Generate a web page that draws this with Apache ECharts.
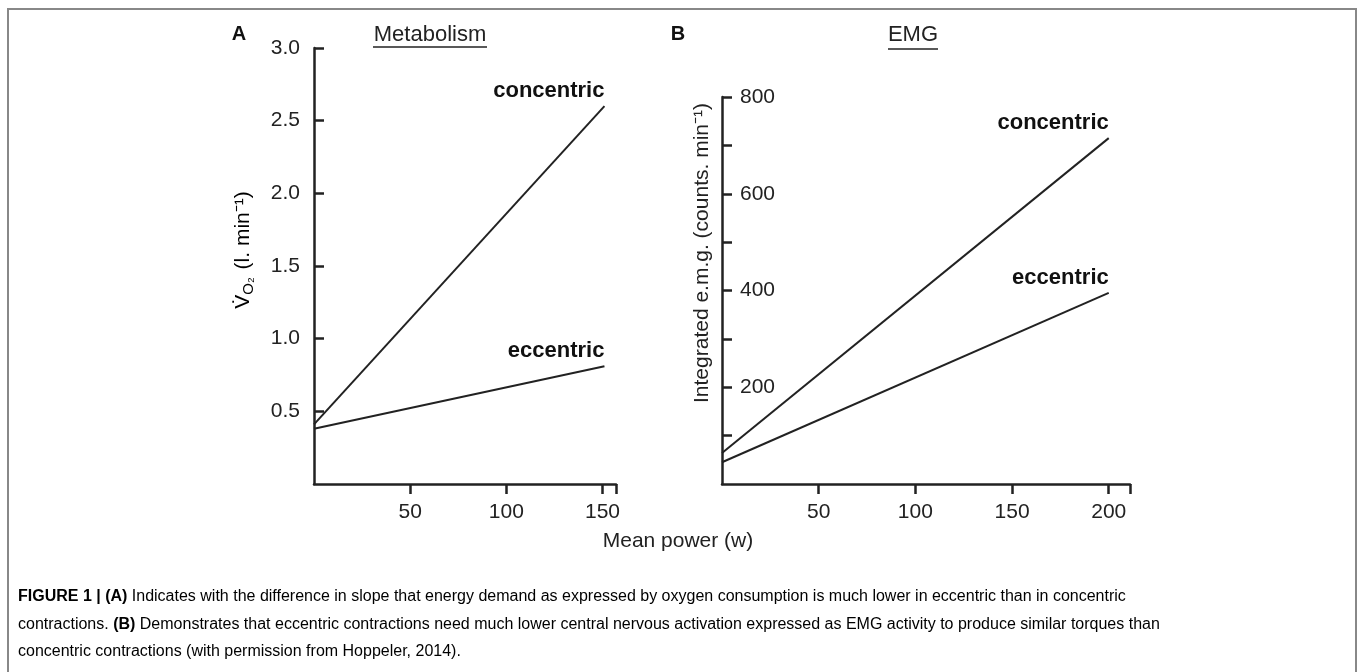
<!DOCTYPE html>
<html>
<head>
    <meta charset="utf-8">
    <title>Metabolism and EMG</title>
    <script src="https://cdn.jsdelivr.net/npm/echarts@6/dist/echarts.min.js"></script>
    <style>
        html, body { margin: 0; padding: 0; background: #fff; }
        #chart1 { width: 1358px; height: 672px; }
    </style>
</head>
<body>
<div id="chart1"></div>
<script type="text/javascript">
    // panel A - metabolism (VO2, l/min)
    var powerA = [0, 151];
    var concentricA = [0.41, 2.6];
    var eccentricA = [0.38, 0.81];
    var xTicksA = [50, 100, 150, 157];
    var xLabelsA = [50, 100, 150];
    var yTicksA = [0.5, 1.0, 1.5, 2.0, 2.5, 3.0];

    // panel B - EMG (counts/min)
    var powerB = [0, 200];
    var concentricB = [64, 715];
    var eccentricB = [45, 395];
    var xTicksB = [50, 100, 150, 200, 211];
    var xLabelsB = [50, 100, 150, 200];
    var yTicksB = [100, 200, 300, 400, 500, 600, 700, 800];
    var yLabelsB = [200, 400, 600, 800];

    var FONT = 'Liberation Sans';
    var INK = '#222';

    // label only the last point of each line
    function pts(xs, ys, name) {
        return xs.map(function (x, i) {
            var p = {value: [x, ys[i]]};
            if (i === xs.length - 1) {
                p.label = {
                    show: true, formatter: name, position: 'top', distance: 4,
                    align: 'right', fontFamily: FONT, fontSize: 22, fontWeight: 'bold', color: '#111'
                };
            }
            return p;
        });
    }

    function line(name, xi, data) {
        return {
            name: name, type: 'line', xAxisIndex: xi, yAxisIndex: xi,
            data: data, symbol: 'circle', symbolSize: 0.1, showSymbol: true, silent: true,
            itemStyle: {color: INK},
            lineStyle: {color: INK, width: 2}
        };
    }

    var axisLine = {show: true, onZero: false, lineStyle: {color: INK, width: 2.5}};

    var myChart1 = echarts.init(document.getElementById('chart1'));
    myChart1.setOption({
        animation: false,
        grid: [
            {left: 314, top: 48, width: 302, height: 436},
            {left: 722, top: 97, width: 408, height: 387}
        ],
        xAxis: [
            {
                type: 'value', gridIndex: 0, min: 0, max: 157, splitLine: {show: false},
                axisLine: axisLine,
                axisTick: {show: true, length: 10, lineStyle: {color: INK, width: 2.5}, customValues: xTicksA},
                axisLabel: {customValues: xLabelsA, margin: 18, fontFamily: FONT, fontSize: 21, color: INK}
            },
            {
                type: 'value', gridIndex: 1, min: 0, max: 211, splitLine: {show: false},
                axisLine: axisLine,
                axisTick: {show: true, length: 10, lineStyle: {color: INK, width: 2.5}, customValues: xTicksB},
                axisLabel: {customValues: xLabelsB, margin: 18, fontFamily: FONT, fontSize: 21, color: INK}
            }
        ],
        yAxis: [
            {
                type: 'value', gridIndex: 0, min: 0, max: 3, splitLine: {show: false},
                axisLine: axisLine,
                axisTick: {show: true, inside: true, length: 10, lineStyle: {color: INK, width: 2.5}, customValues: yTicksA},
                axisLabel: {
                    customValues: yTicksA, margin: 14, fontFamily: FONT, fontSize: 21, color: INK,
                    formatter: function (v) { return v.toFixed(1); }
                }
            },
            {
                type: 'value', gridIndex: 1, min: 0, max: 800, splitLine: {show: false},
                axisLine: axisLine,
                axisTick: {show: true, inside: true, length: 10, lineStyle: {color: INK, width: 2.5}, customValues: yTicksB},
                axisLabel: {customValues: yLabelsB, inside: true, margin: 18, fontFamily: FONT, fontSize: 21, color: INK}
            }
        ],
        series: [
            line('concentric', 0, pts(powerA, concentricA, 'concentric')),
            line('eccentric', 0, pts(powerA, eccentricA, 'eccentric')),
            line('concentric', 1, pts(powerB, concentricB, 'concentric')),
            line('eccentric', 1, pts(powerB, eccentricB, 'eccentric'))
        ],
        graphic: [
            // figure frame
            {type: 'rect', shape: {x: 8, y: 9, width: 1348, height: 720}, style: {fill: 'none', stroke: '#888', lineWidth: 2}, silent: true},
            // panel letters + titles
            {type: 'text', x: 239, y: 34, style: {text: 'A', align: 'center', verticalAlign: 'middle', font: 'bold 20px ' + FONT, fill: '#111'}},
            {type: 'text', x: 678, y: 34, style: {text: 'B', align: 'center', verticalAlign: 'middle', font: 'bold 20px ' + FONT, fill: '#111'}},
            {type: 'text', x: 430, y: 35, style: {text: 'Metabolism', align: 'center', verticalAlign: 'middle', font: '22px ' + FONT, fill: INK}},
            {type: 'line', shape: {x1: 373, y1: 47, x2: 487, y2: 47}, style: {stroke: INK, lineWidth: 1.5}},
            {type: 'text', x: 913, y: 35, style: {text: 'EMG', align: 'center', verticalAlign: 'middle', font: '22px ' + FONT, fill: INK}},
            {type: 'line', shape: {x1: 888, y1: 49, x2: 938, y2: 49}, style: {stroke: INK, lineWidth: 1.5}},
            // axis names
            {
                type: 'text', x: 243, y: 250, rotation: Math.PI / 2,
                style: {
                    text: '{v|V̇}{s|O₂}{v| (l. min⁻¹)}', align: 'center', verticalAlign: 'middle',
                    rich: {
                        v: {fontFamily: FONT, fontSize: 21, color: INK, lineHeight: 26},
                        s: {fontFamily: FONT, fontSize: 15, color: INK, lineHeight: 26, verticalAlign: 'bottom', padding: [8, 2, 0, 0]}
                    }
                }
            },
            {
                type: 'text', x: 702, y: 253, rotation: Math.PI / 2,
                style: {text: 'Integrated e.m.g. (counts. min⁻¹)', align: 'center', verticalAlign: 'middle', font: '21px ' + FONT, fill: INK}
            },
            {type: 'text', x: 678, y: 541, style: {text: 'Mean power (w)', align: 'center', verticalAlign: 'middle', font: '21px ' + FONT, fill: INK}},
            // caption
            {
                type: 'text', x: 18, y: 597,
                style: {
                    text: '{b|FIGURE 1 | (A)}{n| Indicates with the difference in slope that energy demand as expressed by oxygen consumption is much lower in eccentric than in concentric}',
                    verticalAlign: 'middle',
                    rich: {
                        b: {fontFamily: FONT, fontSize: 16, fontWeight: 'bold', color: '#333'},
                        n: {fontFamily: FONT, fontSize: 16, color: '#333'}
                    }
                }
            },
            {
                type: 'text', x: 18, y: 625,
                style: {
                    text: '{n|contractions. }{b|(B)}{n| Demonstrates that eccentric contractions need much lower central nervous activation expressed as EMG activity to produce similar torques than}',
                    verticalAlign: 'middle',
                    rich: {
                        b: {fontFamily: FONT, fontSize: 16, fontWeight: 'bold', color: '#333'},
                        n: {fontFamily: FONT, fontSize: 16, color: '#333'}
                    }
                }
            },
            {
                type: 'text', x: 18, y: 652,
                style: {
                    text: '{n|concentric contractions (with permission from }{l|Hoppeler, 2014}{n|).}',
                    verticalAlign: 'middle',
                    rich: {
                        n: {fontFamily: FONT, fontSize: 16, color: '#333'},
                        l: {fontFamily: FONT, fontSize: 16, color: '#9a9a9a'}
                    }
                }
            }
        ]
    });
</script>
</body>
</html>
